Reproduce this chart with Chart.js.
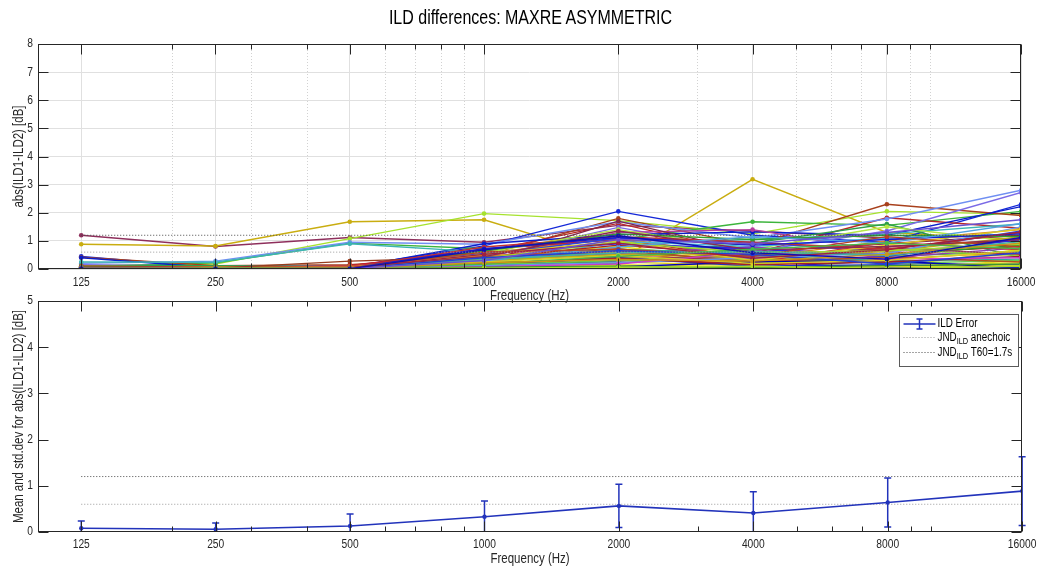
<!DOCTYPE html>
<html><head><meta charset="utf-8">
<script src="https://cdn.jsdelivr.net/npm/chart.js@4.4.1/dist/chart.umd.min.js"></script>
<style>
html,body{margin:0;padding:0;background:#fff;}
#wrap{position:relative;width:1045px;height:572px;overflow:hidden;background:#fff;}
#wrap canvas{position:absolute;left:0;top:0;}
#title{position:absolute;left:0;width:1061px;top:5px;text-align:center;font-size:19.5px;font-family:'Liberation Sans',Arial,sans-serif;color:#000;white-space:nowrap;line-height:24px;transform:scaleX(0.82);transform-origin:530.5px 0;}
</style></head>
<body>
<div id="wrap">
<canvas id="top" width="1045" height="572"></canvas>
<canvas id="bot" width="1045" height="572"></canvas>
<div id="title">ILD differences: MAXRE ASYMMETRIC</div>
</div>
<script>
// ---- data ----
const freqs = [125, 250, 500, 1000, 2000, 4000, 8000, 16000];
const minorFreqs = [200, 300, 400, 600, 700, 800, 900, 3000, 5000, 6000, 7000, 9000, 10000];
const topYTicks = [0, 1, 2, 3, 4, 5, 6, 7, 8];
const bottomYTicks = [0, 1, 2, 3, 4, 5];

const ild01 = [1.20, 0.80, 1.12, 0.95, 1.55, 1.35, 1.10, 1.20];
const ild02 = [0.88, 0.82, 1.68, 1.75, 0.30, 3.19, 1.30, 1.05];
const ild03 = [0.12, 0.18, 1.08, 1.97, 1.72, 1.25, 2.05, 1.95];
const ild04 = [0.45, 0.05, 0.08, 0.82, 2.05, 1.20, 0.95, 2.30];
const ild05 = [0.08, 0.22, 0.92, 0.72, 1.05, 1.68, 1.55, 2.05];
const ild06 = [0.42, 0.12, 0.15, 0.48, 1.80, 0.85, 2.30, 1.90];
const ild07 = [0.05, 0.08, 0.12, 0.62, 1.62, 0.55, 1.82, 1.45];
const ild08 = [0.20, 0.28, 0.95, 0.88, 1.68, 1.10, 1.78, 2.80];
const ild09 = [0.15, 0.10, 0.10, 0.40, 1.48, 0.62, 1.35, 2.72];
const ild10 = [0.40, 0.04, 0.05, 0.90, 1.22, 1.32, 1.20, 2.22];
const ild11 = [0.25, 0.24, 0.90, 0.60, 0.92, 1.05, 1.25, 1.60];
const ild12 = [0.02, 0.05, 0.05, 0.30, 1.30, 1.40, 0.62, 0.90];
const ild13 = [0.05, 0.08, 0.05, 0.55, 1.10, 0.40, 1.00, 1.40];
const ild14 = [0.08, 0.10, 0.02, 0.45, 0.80, 0.28, 0.05, 0.70];
const ild15 = [0.12, 0.12, 0.08, 0.35, 0.50, 0.92, 1.60, 0.40];
const ild16 = [0.04, 0.02, 0.12, 0.70, 1.05, 0.35, 0.30, 1.10];
const ild17 = [0.01, 0.00, 0.02, 0.02, 0.03, 0.05, 0.30, 0.06];
const ild18 = [0.03, 0.02, 0.08, 0.25, 1.70, 0.60, 0.90, 1.20];
const ild19 = [0.06, 0.04, 0.03, 0.58, 1.40, 0.70, 1.50, 0.95];
const ild20 = [0.02, 0.03, 0.04, 0.50, 1.10, 0.95, 0.60, 1.35];
const ild21 = [0.10, 0.06, 0.06, 0.32, 0.62, 0.45, 0.20, 0.55];
const ild22 = [0.06, 0.03, 0.28, 0.42, 0.72, 0.20, 0.80, 1.00];
const ild23 = [0.03, 0.02, 0.02, 0.22, 0.36, 0.18, 0.45, 0.62];
const ild24 = [0.05, 0.05, 0.03, 0.15, 0.98, 0.80, 1.10, 1.25];
const ild25 = [0.02, 0.01, 0.02, 0.10, 0.25, 0.12, 0.00, 0.30];
const ild26 = [0.07, 0.05, 0.06, 0.38, 0.85, 0.50, 0.55, 0.80];
const ild27 = [0.00, 0.01, 0.01, 0.00, 0.00, 0.00, 0.05, 0.02];
const ild28 = [0.04, 0.02, 0.04, 0.28, 0.55, 0.78, 0.40, 0.75];
const ild29 = [0.02, 0.03, 0.05, 0.18, 0.42, 0.25, 0.70, 0.48];
const ild30 = [0.03, 0.02, 0.10, 0.48, 0.60, 0.15, 0.35, 0.60];
const ild31 = [0.06, 0.02, 0.02, 0.12, 0.28, 0.48, 0.22, 0.15];
const ild32 = [0.02, 0.01, 0.06, 0.26, 0.20, 0.62, 0.50, 0.85];
const ild33 = [0.05, 0.04, 0.02, 0.08, 0.46, 0.30, 0.75, 0.52];
const ild34 = [0.01, 0.02, 0.01, 0.05, 0.15, 0.08, 0.10, 0.22];
const ild35 = [0.04, 0.03, 0.03, 0.20, 0.70, 0.55, 0.28, 0.35];
const ild36 = [0.02, 0.03, 0.08, 0.65, 0.32, 0.22, 0.95, 0.68];
const ild37 = [0.03, 0.01, 0.01, 0.10, 0.40, 0.10, 0.15, 0.05];
const ild38 = [0.05, 0.04, 0.04, 0.30, 0.52, 0.40, 0.62, 1.15];
const ild39 = [0.01, 0.02, 0.02, 0.15, 0.30, 0.35, 0.20, 0.30];
const ild40 = [0.03, 0.02, 0.05, 0.36, 0.65, 0.26, 0.42, 0.25];
const ild41 = [0.02, 0.02, 0.02, 0.12, 0.22, 0.40, 0.55, 1.50];
const ild42 = [0.04, 0.01, 0.00, 0.07, 0.12, 0.02, 0.08, 0.12];
const ild43 = [0.01, 0.00, 0.00, 0.04, 0.08, 0.25, 0.30, 0.02];
const ild44 = [0.02, 0.01, 0.03, 0.20, 0.38, 0.15, 0.25, 0.45];
const ild45 = [0.01, 0.02, 0.02, 0.08, 0.18, 0.60, 0.35, 0.40];
const ild46 = [0.02, 0.02, 0.01, 0.06, 0.10, 0.05, 0.12, 0.18];
const ild47 = [0.01, 0.01, 0.01, 0.03, 0.06, 0.10, 0.02, 0.10];
const ild48 = [0.04, 0.03, 0.03, 0.55, 0.90, 0.72, 0.45, 1.05];
const ild49 = [0.10, 0.06, 0.05, 0.78, 1.15, 0.95, 0.70, 1.30];
const ild50 = [0.06, 0.04, 0.04, 0.65, 1.25, 1.05, 1.20, 1.15];
const ild51 = [0.03, 0.03, 0.06, 0.52, 1.00, 0.30, 0.85, 1.42];
const ild52 = [0.05, 0.02, 0.03, 0.72, 1.12, 0.85, 1.05, 1.25];
const ild53 = [0.04, 0.03, 0.05, 0.44, 1.35, 0.68, 0.80, 1.05];
const ild54 = [0.02, 0.04, 0.03, 0.38, 0.95, 0.58, 0.65, 0.88];
const ild55 = [0.03, 0.02, 0.02, 0.28, 0.78, 1.15, 0.92, 1.62];
const ild56 = [0.02, 0.02, 0.04, 0.60, 0.70, 0.45, 1.15, 0.78];
const ild57 = [0.05, 0.03, 0.02, 0.34, 0.58, 0.62, 0.48, 0.98];
const ild58 = [0.02, 0.01, 0.02, 0.25, 0.48, 0.20, 0.30, 0.66];
const ild59 = [0.01, 0.01, 0.02, 0.40, 0.65, 0.52, 0.18, 0.58];
const ild60 = [0.03, 0.02, 0.03, 0.52, 0.92, 0.38, 0.68, 1.32];
const ild61 = [0.02, 0.03, 0.02, 0.18, 0.45, 0.70, 0.92, 0.72];
const ild62 = [0.04, 0.02, 0.02, 0.22, 0.34, 0.28, 0.52, 0.92];
const ild63 = [0.02, 0.01, 0.01, 0.30, 1.05, 0.90, 1.30, 1.75];
const ild64 = [0.02, 0.01, 0.01, 0.68, 1.18, 0.58, 0.35, 1.12];

const seriesColors = [
  '#8e2f5c', '#c9ad10', '#a6e22e', '#1428d8', '#3cb43c', '#a8401c', '#b82828', '#6f8ff2',
  '#7a6ae6', '#0a1ecc', '#3cb4b4', '#b43ca0', '#d88a1e', '#e6e014', '#2e9e4a', '#c02034',
  '#1010c8', '#82284a', '#b4e646', '#2a46e0', '#d2b41e', '#963c1e', '#50be32', '#46b4dc',
  '#e2d21e', '#aa2222', '#0a0ad2', '#8c3cb4', '#96d23c', '#dc7828', '#3c3cdc', '#28a028',
  '#9a2e52', '#f0e628', '#32aa96', '#c8323c', '#1e32c8', '#beaa14', '#64c850', '#b4501e',
  '#6496f0', '#dcdc1e', '#0000b4', '#a01e2a', '#c83cc8', '#3c9632', '#aadc28', '#2828e6',
  '#c03030', '#30a030', '#e0c820', '#1a1ad0', '#8c2850', '#a0d830', '#50a0e0', '#b84020',
  '#40b4a0', '#d8d020', '#2040d8', '#a02040', '#48b848', '#c89618', '#6a50d0', '#1010b0'
];

const meanILD = [0.08, 0.06, 0.13, 0.33, 0.565, 0.41, 0.64, 0.885];
const stdILD  = [0.16, 0.135, 0.26, 0.34, 0.47, 0.46, 0.53, 0.745];
const jndAnechoic = 0.6;
const jndT60 = 1.2;

const ildSeries = [ild01, ild02, ild03, ild04, ild05, ild06, ild07, ild08, ild09, ild10, ild11, ild12,
  ild13, ild14, ild15, ild16, ild17, ild18, ild19, ild20, ild21, ild22, ild23, ild24, ild25, ild26,
  ild27, ild28, ild29, ild30, ild31, ild32, ild33, ild34, ild35, ild36, ild37, ild38, ild39, ild40,
  ild41, ild42, ild43, ild44, ild45, ild46, ild47, ild48, ild49, ild50, ild51, ild52, ild53, ild54,
  ild55, ild56, ild57, ild58, ild59, ild60, ild61, ild62, ild63, ild64];

// ---- styling ----
const FONT = "'Liberation Sans',Arial,sans-serif";
const NARROW = 0.82;
const AX = '#262626';
const ERRC = '#2233bb';
const JND_A = '#9a9a9a';
const JND_T = '#4a4a4a';

// narrow (condensed) rendering of canvas text, like the reference's narrow Helvetica
function narrowText(canvas) {
  const ctx = canvas.getContext('2d');
  const orig = ctx.fillText;
  ctx.fillText = function (t, x, y, mw) {
    this.save();
    this.translate(x, y);
    this.scale(NARROW, 1);
    if (mw === undefined) orig.call(this, t, 0, 0); else orig.call(this, t, 0, 0, mw / NARROW);
    this.restore();
  };
}
narrowText(document.getElementById('top'));
narrowText(document.getElementById('bot'));

function xy(vals) { return vals.map((v, i) => ({ x: freqs[i], y: v })); }
function hline(v) { return [{ x: freqs[0], y: v }, { x: freqs[freqs.length - 1], y: v }]; }

const minorGridPlugin = {
  id: 'minorGrid',
  beforeDatasetsDraw(chart, args, opts) {
    if (!opts || !opts.enabled) return;
    const { ctx, chartArea: a, scales: { x } } = chart;
    ctx.save();
    ctx.strokeStyle = '#d2d2d2';
    ctx.lineWidth = 1;
    ctx.setLineDash([1, 2]);
    ctx.beginPath();
    minorFreqs.forEach(f => {
      const px = Math.round(x.getPixelForValue(f)) + 0.5;
      ctx.moveTo(px, a.top); ctx.lineTo(px, a.bottom);
    });
    ctx.stroke();
    ctx.restore();
  }
};

const framePlugin = {
  id: 'frame',
  afterDraw(chart, args, opts) {
    const { ctx, chartArea: a, scales: { x, y } } = chart;
    const L = Math.round(a.left) + 0.5, R = Math.round(a.right) - 0.5;
    const T = Math.round(a.top) + 0.5, B = Math.round(a.bottom) - 0.5;
    ctx.save();
    ctx.strokeStyle = AX; ctx.lineWidth = 1; ctx.setLineDash([]);
    ctx.beginPath();
    freqs.forEach(f => {
      const px = Math.round(x.getPixelForValue(f)) + 0.5;
      ctx.moveTo(px, B); ctx.lineTo(px, B - 10);
      ctx.moveTo(px, T); ctx.lineTo(px, T + 10);
    });
    minorFreqs.forEach(f => {
      const px = Math.round(x.getPixelForValue(f)) + 0.5;
      ctx.moveTo(px, B); ctx.lineTo(px, B - 5);
      ctx.moveTo(px, T); ctx.lineTo(px, T + 5);
    });
    (opts.yTicks || []).forEach(v => {
      const py = Math.round(y.getPixelForValue(v)) + 0.5;
      ctx.moveTo(L, py); ctx.lineTo(L + 10, py);
      ctx.moveTo(R, py); ctx.lineTo(R - 10, py);
    });
    ctx.stroke();
    ctx.strokeRect(L, T, R - L, B - T);
    ctx.restore();
  }
};

const errPlugin = {
  id: 'errbars',
  afterDatasetsDraw(chart, args, opts) {
    if (!opts || !opts.enabled) return;
    const { ctx, chartArea: a, scales: { x, y } } = chart;
    ctx.save();
    ctx.beginPath();
    ctx.rect(0, a.top, chart.width, a.bottom - a.top);
    ctx.clip();
    ctx.strokeStyle = ERRC; ctx.lineWidth = 1.5;
    ctx.beginPath();
    freqs.forEach((f, i) => {
      const px = x.getPixelForValue(f);
      const hi = y.getPixelForValue(meanILD[i] + stdILD[i]);
      const lo = y.getPixelForValue(meanILD[i] - stdILD[i]);
      ctx.moveTo(px, hi); ctx.lineTo(px, lo);
      ctx.moveTo(px - 3.5, hi); ctx.lineTo(px + 3.5, hi);
      ctx.moveTo(px - 3.5, lo); ctx.lineTo(px + 3.5, lo);
    });
    ctx.stroke();
    ctx.restore();
  }
};

const legendPlugin = {
  id: 'mlegend',
  afterDraw(chart, args, opts) {
    if (!opts || !opts.enabled) return;
    const { ctx, chartArea: a } = chart;
    const bx = Math.round(a.right) - 122.5, by = Math.round(a.top) + 13.5, bw = 119, bh = 52;
    ctx.save();
    ctx.fillStyle = '#fff';
    ctx.fillRect(bx, by, bw, bh);
    ctx.strokeStyle = '#5a5a5a'; ctx.lineWidth = 1;
    ctx.strokeRect(bx, by, bw, bh);
    const rows = [by + 9.5, by + 23, by + 38];
    const x0 = bx + 4, x1 = bx + 36, tx = bx + 38;
    ctx.strokeStyle = ERRC; ctx.lineWidth = 1.5;
    ctx.beginPath();
    ctx.moveTo(x0, rows[0]); ctx.lineTo(x1, rows[0]);
    const cx = (x0 + x1) / 2;
    ctx.moveTo(cx, rows[0] - 5); ctx.lineTo(cx, rows[0] + 5);
    ctx.moveTo(cx - 3, rows[0] - 5); ctx.lineTo(cx + 3, rows[0] - 5);
    ctx.moveTo(cx - 3, rows[0] + 5); ctx.lineTo(cx + 3, rows[0] + 5);
    ctx.stroke();
    ctx.lineWidth = 1; ctx.setLineDash([1, 2]);
    ctx.strokeStyle = JND_A;
    ctx.beginPath(); ctx.moveTo(x0, rows[1]); ctx.lineTo(x1, rows[1]); ctx.stroke();
    ctx.strokeStyle = JND_T;
    ctx.beginPath(); ctx.moveTo(x0, rows[2]); ctx.lineTo(x1, rows[2]); ctx.stroke();
    ctx.setLineDash([]);
    ctx.fillStyle = '#000';
    ctx.textBaseline = 'middle';
    ctx.textAlign = 'left';
    const big = '12px ' + FONT, small = '9px ' + FONT;
    ctx.font = big;
    ctx.fillText('ILD Error', tx, rows[0]);
    const sub = (yy, rest) => {
      ctx.font = big;
      ctx.fillText('JND', tx, yy);
      let w = ctx.measureText('JND').width * NARROW;
      ctx.font = small;
      ctx.fillText('ILD', tx + w, yy + 4);
      w += ctx.measureText('ILD').width * NARROW;
      ctx.font = big;
      ctx.fillText(rest, tx + w, yy);
    };
    sub(rows[1], ' anechoic');
    sub(rows[2], ' T60=1.7s');
    ctx.restore();
  }
};

function makeOptions(cfg) {
  return {
    responsive: false,
    animation: false,
    devicePixelRatio: 1,
    layout: { padding: cfg.padding },
    plugins: {
      legend: { display: false },
      tooltip: { enabled: false },
      title: { display: false },
      minorGrid: { enabled: cfg.grid },
      frame: { yTicks: cfg.yTicks },
      errbars: { enabled: cfg.err },
      mlegend: { enabled: cfg.err }
    },
    elements: { line: { tension: 0 } },
    scales: {
      x: {
        type: 'logarithmic',
        position: 'bottom',
        min: 100, max: 16000,
        afterBuildTicks: s => { s.ticks = freqs.map(v => ({ value: v })); },
        afterFit: s => { s.height = cfg.xH; },
        ticks: {
          autoSkip: false, maxRotation: 0, minRotation: 0,
          padding: cfg.tickPad,
          color: AX,
          font: { family: FONT, size: 12.5 },
          callback: v => String(v)
        },
        grid: { display: cfg.grid, color: '#e0e0e0', lineWidth: 1, drawTicks: false },
        border: { display: false },
        title: {
          display: true, text: 'Frequency (Hz)', color: AX,
          font: { family: FONT, size: 14 },
          padding: { top: 0, bottom: cfg.xTitlePad }
        }
      },
      y: {
        type: 'linear',
        position: 'left',
        min: 0, max: cfg.yMax,
        afterBuildTicks: s => { s.ticks = cfg.yTicks.map(v => ({ value: v })); },
        afterFit: s => { s.width = 38; },
        ticks: {
          padding: 5, color: AX,
          font: { family: FONT, size: 12.5 }
        },
        grid: { display: cfg.grid, color: '#e0e0e0', lineWidth: 1, drawTicks: false },
        border: { display: false },
        title: {
          display: true, text: cfg.yTitle, color: AX,
          font: { family: FONT, size: 14 },
          padding: { top: 10.5, bottom: 0 }
        }
      }
    }
  };
}

const topDatasets = [
  { data: hline(jndT60), borderColor: JND_T, borderDash: [1, 2], borderWidth: 1, pointRadius: 0 },
  { data: hline(jndAnechoic), borderColor: JND_A, borderDash: [1, 2], borderWidth: 1, pointRadius: 0 }
].concat(ildSeries.map((s, i) => ({
  data: xy(s),
  borderColor: seriesColors[i],
  backgroundColor: seriesColors[i],
  borderWidth: 1.4,
  pointRadius: 2.3,
  pointBorderWidth: 0,
  pointBackgroundColor: seriesColors[i]
})).reverse());

new Chart(document.getElementById('top'), {
  type: 'line',
  data: { datasets: topDatasets },
  options: makeOptions({
    padding: { top: 44, right: 22, bottom: 266, left: 0 },
    grid: true, err: false, yMax: 8, yTicks: topYTicks,
    yTitle: 'abs(ILD1-ILD2) [dB]', xH: 37, tickPad: 6.5, xTitlePad: 1.6
  }),
  plugins: [minorGridPlugin, framePlugin, errPlugin, legendPlugin]
});

const botDatasets = [
  { data: xy(meanILD), borderColor: ERRC, backgroundColor: ERRC, borderWidth: 1.6, pointRadius: 2.2, pointBorderWidth: 0, pointBackgroundColor: ERRC },
  { data: hline(jndAnechoic), borderColor: JND_A, borderDash: [1, 2], borderWidth: 1, pointRadius: 0 },
  { data: hline(jndT60), borderColor: JND_T, borderDash: [1, 2], borderWidth: 1, pointRadius: 0 }
];

new Chart(document.getElementById('bot'), {
  type: 'line',
  data: { datasets: botDatasets },
  options: makeOptions({
    padding: { top: 301, right: 22, bottom: 0, left: 0 },
    grid: false, err: true, yMax: 5, yTicks: bottomYTicks,
    yTitle: 'Mean and std.dev for abs(ILD1-ILD2) [dB]', xH: 40, tickPad: 5.5, xTitlePad: 4.6
  }),
  plugins: [minorGridPlugin, framePlugin, errPlugin, legendPlugin]
});
</script>
</body></html>
